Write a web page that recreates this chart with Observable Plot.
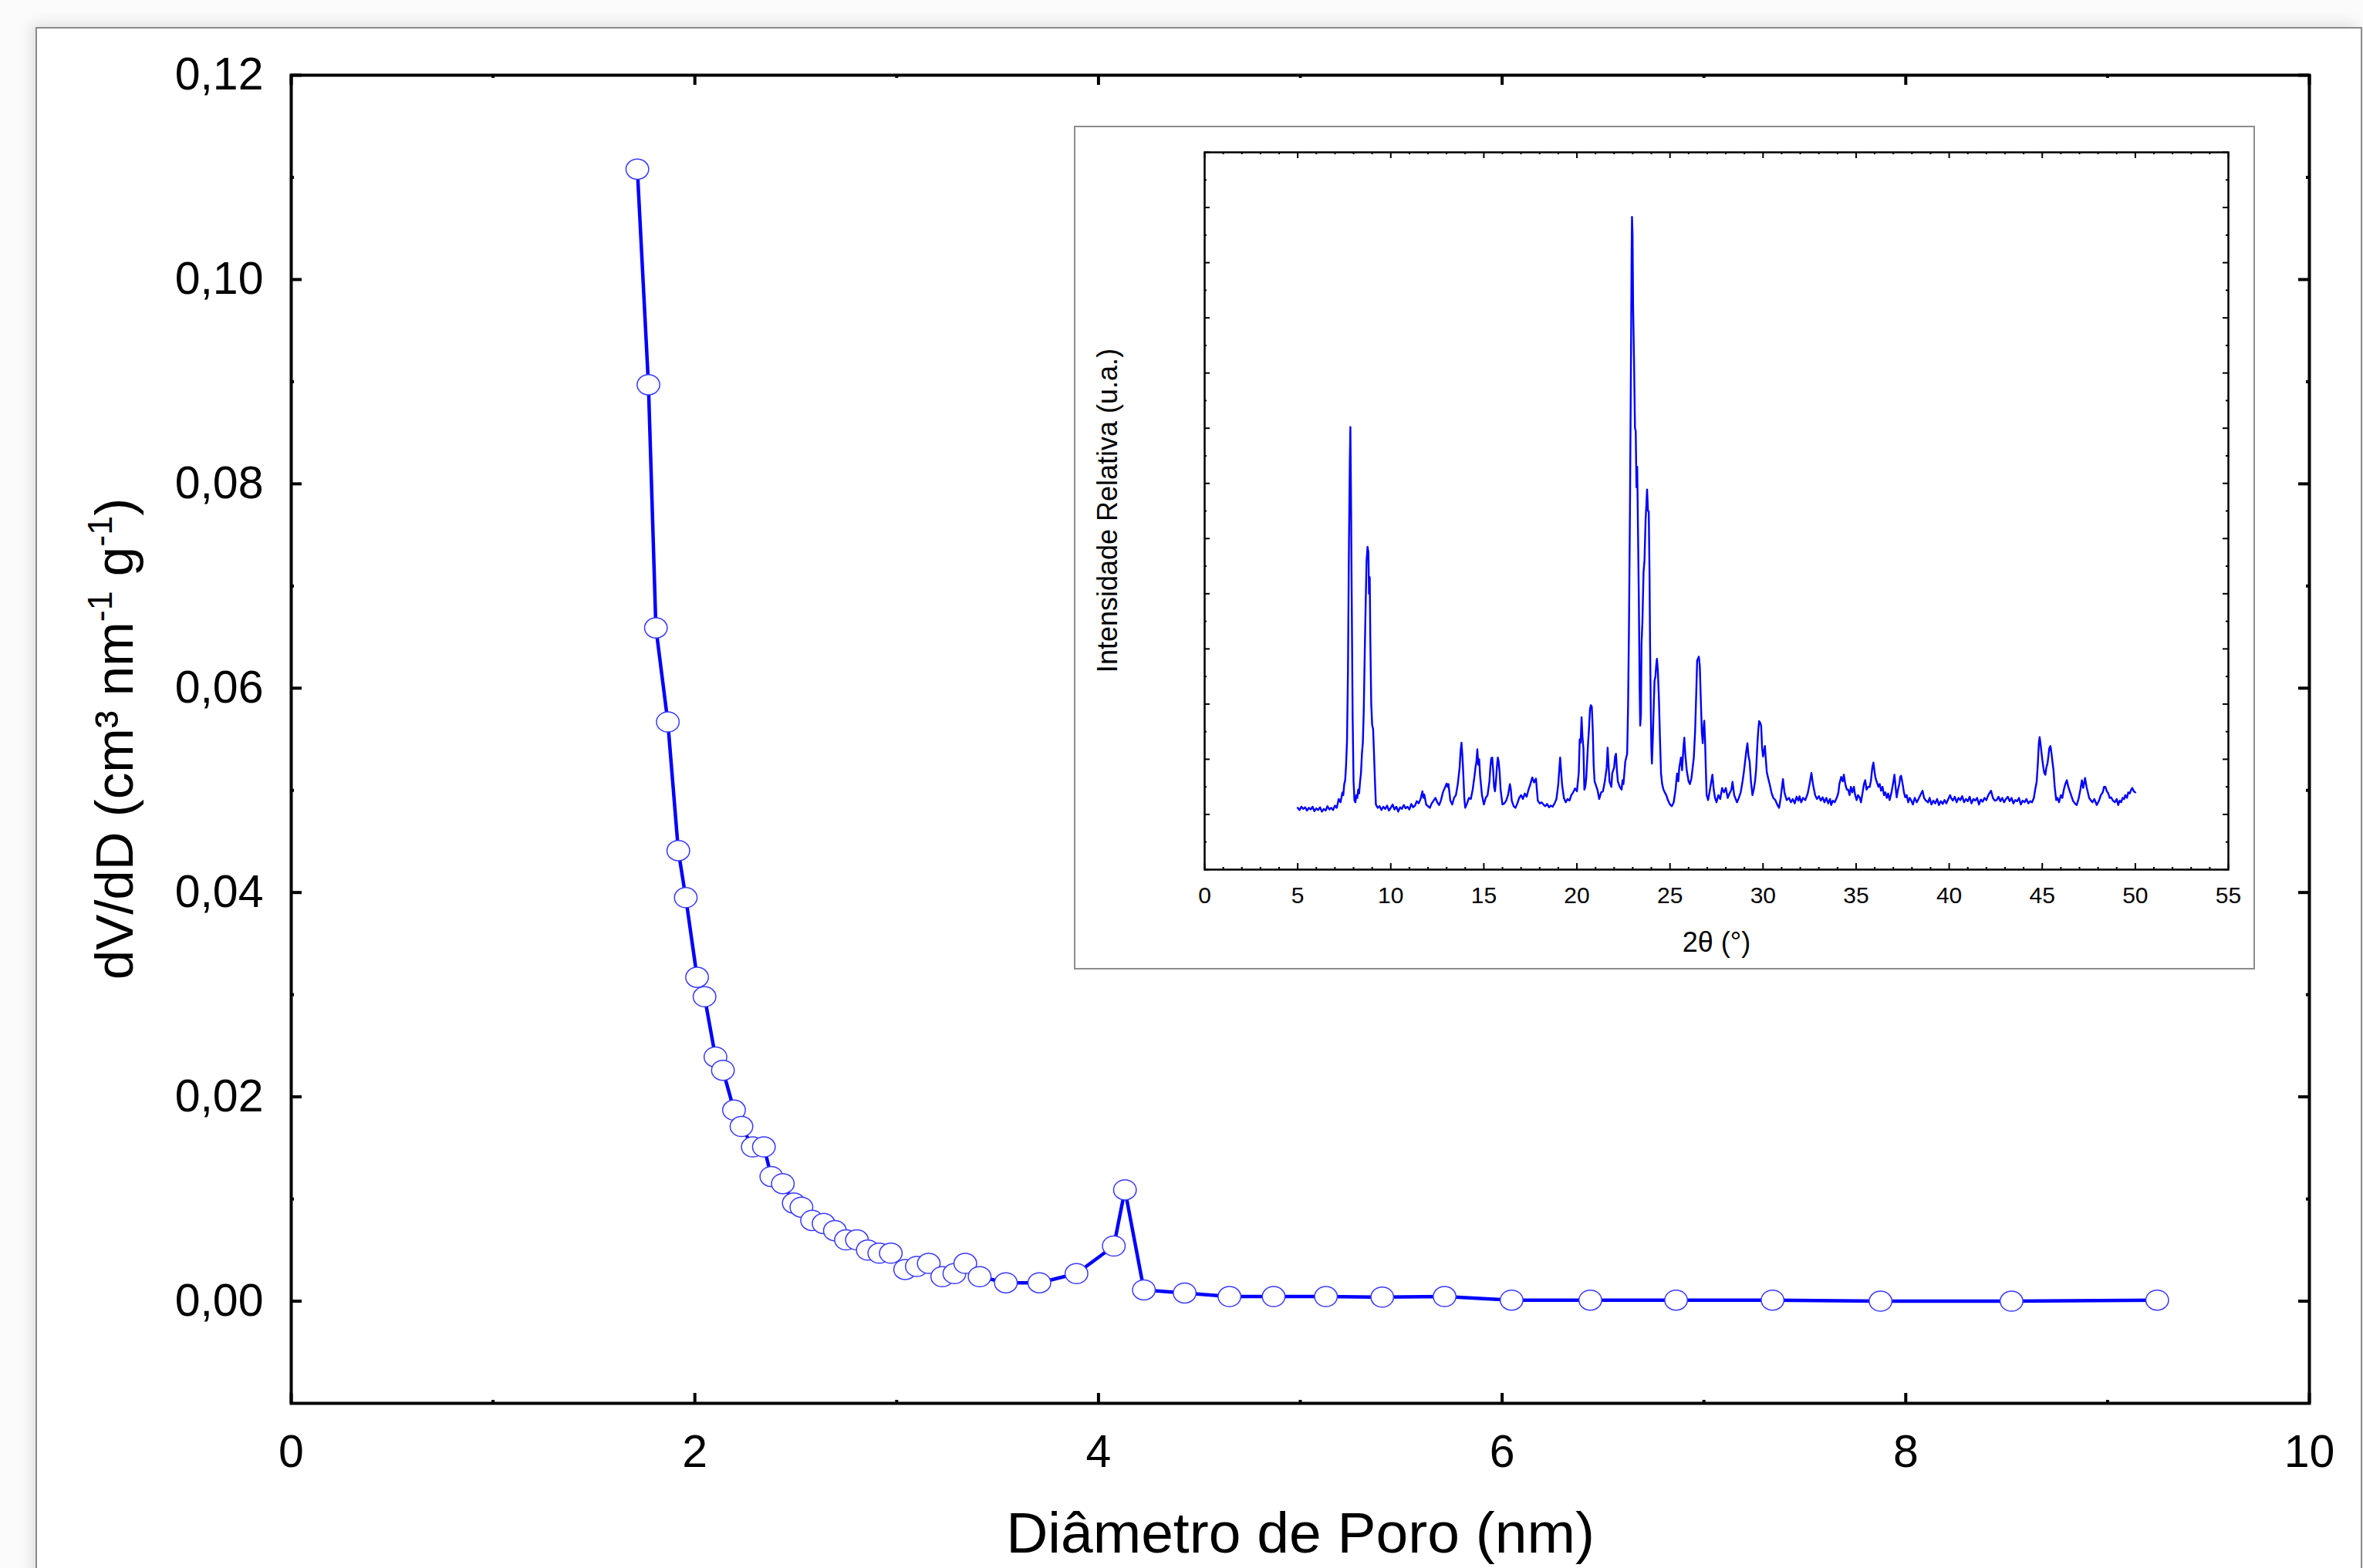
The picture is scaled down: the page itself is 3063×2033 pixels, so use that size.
<!DOCTYPE html>
<html>
<head>
<meta charset="utf-8">
<script src="https://cdn.jsdelivr.net/npm/d3@7"></script>
<script src="https://cdn.jsdelivr.net/npm/@observablehq/plot@0.6"></script>
<style>
  html, body { margin: 0; padding: 0; background: #fbfbfb; }
  #page { position: relative; width: 3063px; height: 2033px; overflow: hidden; background: #fbfbfb; }
  #sheet { position: absolute; left: 46px; top: 35px; width: 3012px; height: 2100px; background: #fff;
           border: 2px solid #8a8a8a; box-shadow: -6px -5px 16px rgba(0,0,0,0.10); }
  #main { position: absolute; left: 0; top: 0; }
  #insetBox { position: absolute; left: 1392px; top: 163px; width: 1531px; height: 1094px;
              border: 2px solid #8c8c8c; background: #fff; box-sizing: border-box; }
  #inset { position: absolute; left: 1393px; top: 164px; }
</style>
</head>
<body>
<div id="page">
  <div id="sheet"></div>
  <div id="main"></div>
  <div id="insetBox"></div>
  <div id="inset"></div>
</div>
<script>
// ---------------- DATA ----------------
// Pore size distribution (main chart)
const poreDiameter = [1.715, 1.770, 1.807, 1.866, 1.918, 1.955, 2.011, 2.048, 2.102, 2.139,
  2.194, 2.231, 2.287, 2.342, 2.379, 2.436, 2.490, 2.528, 2.581, 2.638,
  2.694, 2.749, 2.803, 2.857, 2.914, 2.971, 3.042, 3.100, 3.159, 3.226,
  3.286, 3.340, 3.411, 3.541, 3.707, 3.891, 4.076, 4.131, 4.225, 4.427,
  4.649, 4.868, 5.127, 5.406, 5.715, 6.047, 6.437, 6.862, 7.340, 7.875,
  8.524, 9.246];
const dVdD = [0.1108, 0.0897, 0.0659, 0.0567, 0.0441, 0.0395, 0.0317, 0.0298, 0.0239, 0.0226,
  0.0187, 0.0171, 0.0151, 0.0151, 0.0122, 0.0115, 0.0096, 0.0092, 0.0079, 0.0076,
  0.0069, 0.0060, 0.0060, 0.0050, 0.0047, 0.0047, 0.0031, 0.0034, 0.0037, 0.0024,
  0.0027, 0.0037, 0.0024, 0.0018, 0.0018, 0.0027, 0.0054, 0.0109, 0.0011, 0.0008,
  0.00045, 0.00045, 0.00045, 0.0004, 0.00045, 0.0001, 0.0001, 0.0001, 0.0001, 0.0000,
  0.0000, 0.0001];

const mainXTicks = [0, 2, 4, 6, 8, 10];
const mainXMinor = [1, 3, 5, 7, 9];
const mainYTicks = [0, 0.02, 0.04, 0.06, 0.08, 0.10, 0.12];
const mainYMinor = [0.01, 0.03, 0.05, 0.07, 0.09, 0.11];

// XRD pattern (inset), [2θ, relative intensity in arbitrary units]
const xrdPattern = [
  [5.0,1.12],[5.1,1.08],[5.2,1.14],[5.3,1.10],[5.4,1.13],[5.5,1.07],[5.6,1.12],[5.7,1.09],[5.8,1.14],[5.9,1.06],
  [6.0,1.11],[6.1,1.08],[6.2,1.13],[6.3,1.05],[6.4,1.10],[6.5,1.07],[6.6,1.15],[6.7,1.09],[6.8,1.12],[6.9,1.08],
  [7.0,1.16],[7.1,1.12],[7.2,1.28],[7.3,1.22],[7.4,1.40],[7.45,1.35],[7.5,1.55],[7.55,1.62],[7.6,1.90],[7.65,2.35],
  [7.7,3.6],[7.75,5.8],[7.8,7.4],[7.83,8.02],[7.86,6.9],[7.9,5.0],[7.95,2.8],[8.0,1.6],[8.05,1.25],[8.1,1.22],
  [8.15,1.35],[8.2,1.30],[8.25,1.45],[8.3,1.38],[8.35,1.60],[8.4,1.75],[8.45,2.1],[8.5,2.3],[8.55,2.9],[8.6,3.9],
  [8.65,4.8],[8.7,5.6],[8.75,5.85],[8.8,5.75],[8.83,5.0],[8.87,5.3],[8.9,4.2],[8.95,3.0],[9.0,2.62],[9.05,2.55],
  [9.1,2.1],[9.15,1.6],[9.2,1.18],[9.3,1.12],[9.4,1.15],[9.5,1.08],[9.6,1.14],[9.7,1.10],[9.8,1.16],[9.9,1.07],
  [10.0,1.12],[10.1,1.18],[10.2,1.09],[10.3,1.14],[10.4,1.05],[10.5,1.13],[10.6,1.10],[10.7,1.17],[10.8,1.11],[10.9,1.14],
  [11.0,1.09],[11.1,1.19],[11.2,1.13],[11.3,1.16],[11.4,1.24],[11.5,1.20],[11.6,1.28],[11.7,1.42],[11.75,1.30],[11.8,1.36],
  [11.9,1.18],[12.0,1.15],[12.1,1.12],[12.2,1.20],[12.3,1.25],[12.4,1.30],[12.5,1.22],[12.6,1.17],[12.7,1.26],[12.8,1.40],
  [12.9,1.48],[13.0,1.56],[13.05,1.50],[13.1,1.55],[13.2,1.25],[13.3,1.18],[13.4,1.30],[13.5,1.35],[13.6,1.55],[13.7,1.85],
  [13.75,2.15],[13.8,2.30],[13.85,2.05],[13.9,1.70],[13.95,1.30],[14.0,1.12],[14.1,1.20],[14.2,1.30],[14.3,1.28],[14.4,1.45],
  [14.5,1.70],[14.55,1.85],[14.6,1.95],[14.65,2.18],[14.7,1.90],[14.75,2.00],[14.8,1.70],[14.9,1.35],[15.0,1.18],[15.1,1.30],
  [15.2,1.35],[15.3,1.60],[15.35,1.85],[15.4,2.02],[15.45,2.03],[15.5,1.80],[15.55,1.50],[15.6,1.42],[15.65,1.60],[15.7,1.85],
  [15.75,2.03],[15.8,1.95],[15.85,1.75],[15.9,1.45],[16.0,1.18],[16.1,1.20],[16.2,1.25],[16.3,1.35],[16.4,1.55],[16.45,1.45],
  [16.5,1.25],[16.6,1.15],[16.7,1.12],[16.8,1.20],[16.9,1.30],[17.0,1.35],[17.1,1.28],[17.2,1.38],[17.3,1.32],[17.4,1.45],
  [17.5,1.55],[17.6,1.67],[17.7,1.58],[17.8,1.65],[17.9,1.25],[18.0,1.20],[18.1,1.22],[18.2,1.18],[18.3,1.15],[18.4,1.19],
  [18.5,1.13],[18.6,1.16],[18.7,1.14],[18.8,1.20],[18.9,1.28],[19.0,1.55],[19.05,1.80],[19.1,2.03],[19.15,1.80],[19.2,1.55],
  [19.3,1.30],[19.4,1.22],[19.5,1.28],[19.6,1.25],[19.7,1.35],[19.8,1.40],[19.9,1.47],[20.0,1.42],[20.1,1.75],[20.15,2.36],
  [20.2,2.30],[20.25,2.76],[20.3,2.40],[20.35,2.20],[20.4,1.45],[20.45,1.50],[20.5,1.65],[20.6,2.29],[20.65,2.55],[20.7,2.90],
  [20.75,2.98],[20.8,2.95],[20.85,2.55],[20.9,1.90],[20.95,1.60],[21.0,1.55],[21.1,1.45],[21.2,1.28],[21.3,1.40],[21.4,1.42],
  [21.5,1.60],[21.6,1.85],[21.65,2.21],[21.7,1.90],[21.75,1.60],[21.8,1.55],[21.85,1.50],[21.9,1.75],[22.0,1.85],[22.05,2.05],
  [22.1,2.10],[22.15,1.80],[22.2,1.60],[22.3,1.50],[22.4,1.45],[22.45,1.62],[22.5,1.55],[22.6,1.96],[22.7,2.10],[22.75,2.98],
  [22.8,4.5],[22.85,6.5],[22.9,9.0],[22.94,11.2],[22.96,11.83],[22.99,11.5],[23.02,10.2],[23.07,9.2],[23.12,8.0],[23.16,7.95],
  [23.2,6.93],[23.24,7.3],[23.28,6.2],[23.33,4.81],[23.37,3.3],[23.4,2.61],[23.44,2.8],[23.47,4.08],[23.52,4.5],[23.58,5.39],
  [23.63,5.6],[23.69,6.34],[23.73,6.6],[23.77,6.89],[23.82,6.5],[23.86,6.49],[23.9,5.4],[23.93,4.08],[23.97,2.9],[24.0,2.2],
  [24.03,1.92],[24.08,2.4],[24.13,3.0],[24.17,3.42],[24.22,3.5],[24.26,3.7],[24.3,3.82],[24.35,3.6],[24.41,3.05],[24.46,2.4],
  [24.52,1.74],[24.58,1.55],[24.65,1.45],[24.72,1.40],[24.8,1.35],[24.9,1.25],[25.0,1.18],[25.1,1.15],[25.2,1.22],[25.3,1.45],
  [25.38,1.74],[25.45,1.60],[25.5,1.85],[25.59,2.03],[25.65,1.80],[25.72,2.2],[25.77,2.39],[25.82,2.1],[25.9,1.80],[26.0,1.60],
  [26.07,1.55],[26.15,1.65],[26.22,1.85],[26.28,2.03],[26.35,2.5],[26.42,3.3],[26.46,3.79],[26.55,3.86],[26.6,3.7],[26.66,3.05],
  [26.71,2.5],[26.76,2.29],[26.8,2.55],[26.84,2.7],[26.88,2.4],[26.92,1.9],[26.97,1.35],[27.05,1.26],[27.15,1.45],[27.22,1.60],
  [27.28,1.72],[27.35,1.45],[27.42,1.30],[27.5,1.22],[27.6,1.35],[27.7,1.28],[27.8,1.48],[27.9,1.40],[28.0,1.48],[28.1,1.30],
  [28.2,1.38],[28.3,1.45],[28.36,1.59],[28.45,1.35],[28.6,1.22],[28.7,1.30],[28.8,1.40],[28.9,1.60],[28.97,1.77],[29.05,2.0],
  [29.1,2.15],[29.16,2.29],[29.22,2.05],[29.28,1.96],[29.35,1.60],[29.43,1.35],[29.5,1.45],[29.57,1.60],[29.63,1.82],[29.7,2.3],
  [29.75,2.55],[29.79,2.69],[29.85,2.66],[29.9,2.60],[29.95,2.2],[30.0,2.05],[30.05,2.15],[30.1,2.24],[30.15,2.0],[30.2,1.77],
  [30.28,1.65],[30.36,1.54],[30.45,1.40],[30.55,1.30],[30.66,1.26],[30.76,1.18],[30.86,1.12],[30.95,1.30],[31.0,1.45],[31.07,1.64],
  [31.15,1.40],[31.27,1.26],[31.4,1.30],[31.5,1.22],[31.6,1.28],[31.7,1.20],[31.8,1.32],[31.9,1.25],[31.96,1.33],[32.05,1.22],
  [32.15,1.30],[32.27,1.26],[32.4,1.38],[32.5,1.55],[32.6,1.75],[32.68,1.55],[32.8,1.35],[32.9,1.28],[33.0,1.33],[33.1,1.25],
  [33.2,1.31],[33.3,1.22],[33.4,1.30],[33.5,1.20],[33.6,1.28],[33.66,1.17],[33.75,1.25],[33.85,1.22],[33.97,1.31],[34.05,1.40],
  [34.1,1.55],[34.2,1.68],[34.28,1.60],[34.34,1.72],[34.42,1.55],[34.5,1.45],[34.57,1.45],[34.65,1.35],[34.72,1.50],[34.8,1.40],
  [34.88,1.50],[34.95,1.35],[35.03,1.26],[35.1,1.35],[35.2,1.30],[35.26,1.22],[35.35,1.40],[35.42,1.55],[35.49,1.62],[35.56,1.45],
  [35.65,1.50],[35.73,1.50],[35.8,1.62],[35.87,1.85],[35.93,1.94],[36.0,1.75],[36.05,1.65],[36.11,1.59],[36.2,1.50],[36.27,1.55],
  [36.34,1.43],[36.42,1.50],[36.5,1.35],[36.57,1.40],[36.65,1.30],[36.72,1.38],[36.8,1.26],[36.9,1.40],[36.98,1.55],[37.06,1.72],
  [37.12,1.50],[37.18,1.31],[37.25,1.45],[37.32,1.55],[37.37,1.68],[37.42,1.70],[37.5,1.55],[37.57,1.40],[37.64,1.31],[37.72,1.35],
  [37.8,1.22],[37.88,1.30],[37.95,1.26],[38.05,1.18],[38.15,1.30],[38.26,1.22],[38.35,1.28],[38.45,1.35],[38.57,1.43],[38.65,1.30],
  [38.75,1.25],[38.87,1.22],[38.95,1.30],[39.05,1.18],[39.15,1.25],[39.25,1.20],[39.35,1.28],[39.45,1.17],[39.55,1.24],[39.65,1.19],
  [39.75,1.26],[39.85,1.20],[39.95,1.28],[40.05,1.35],[40.1,1.30],[40.2,1.25],[40.3,1.32],[40.4,1.22],[40.5,1.30],[40.6,1.26],
  [40.7,1.33],[40.8,1.22],[40.9,1.28],[41.0,1.24],[41.1,1.32],[41.2,1.20],[41.3,1.28],[41.4,1.25],[41.5,1.30],[41.6,1.18],
  [41.7,1.27],[41.8,1.23],[41.9,1.30],[42.0,1.26],[42.1,1.35],[42.25,1.43],[42.35,1.30],[42.45,1.25],[42.55,1.26],[42.65,1.32],
  [42.75,1.24],[42.85,1.30],[42.95,1.22],[43.05,1.28],[43.15,1.32],[43.25,1.24],[43.35,1.30],[43.45,1.20],[43.55,1.26],[43.65,1.24],
  [43.75,1.30],[43.85,1.18],[43.95,1.25],[44.05,1.22],[44.15,1.28],[44.25,1.20],[44.35,1.24],[44.45,1.22],[44.55,1.30],[44.62,1.45],
  [44.7,1.59],[44.76,1.9],[44.82,2.3],[44.86,2.40],[44.9,2.30],[44.95,2.15],[45.0,2.0],[45.06,1.85],[45.11,1.75],[45.17,1.72],
  [45.22,1.85],[45.28,1.92],[45.33,2.05],[45.38,2.20],[45.44,2.24],[45.5,2.10],[45.55,1.95],[45.6,1.82],[45.67,1.50],[45.75,1.26],
  [45.82,1.30],[45.9,1.22],[46.0,1.35],[46.08,1.30],[46.16,1.45],[46.24,1.55],[46.32,1.62],[46.4,1.50],[46.48,1.42],[46.55,1.35],
  [46.65,1.25],[46.75,1.20],[46.85,1.17],[46.95,1.28],[47.05,1.45],[47.13,1.62],[47.2,1.48],[47.3,1.66],[47.38,1.50],[47.45,1.40],
  [47.52,1.30],[47.6,1.26],[47.7,1.22],[47.8,1.28],[47.93,1.17],[48.05,1.25],[48.15,1.35],[48.25,1.40],[48.32,1.50],[48.39,1.50],
  [48.47,1.42],[48.55,1.38],[48.62,1.30],[48.7,1.31],[48.8,1.25],[48.9,1.22],[49.0,1.28],[49.08,1.17],[49.16,1.25],[49.24,1.22],
  [49.32,1.30],[49.4,1.28],[49.46,1.35],[49.55,1.30],[49.62,1.40],[49.7,1.38],[49.78,1.45],[49.84,1.48],[49.92,1.42],[50.0,1.40]
];
const xrdXTicks = [0, 5, 10, 15, 20, 25, 30, 35, 40, 45, 50, 55];
const xrdXMinor = d3.range(0, 56).filter(d => d % 5 !== 0);
const xrdYMajor = d3.range(0, 14);
const xrdYMinor = d3.range(0, 13).map(d => d + 0.5);

// ---------------- MAIN CHART ----------------
const FONT = "'Liberation Sans', Arial, Helvetica, sans-serif";
const W = 3063, H = 2033;
const mL = 377, mT = 97, mR = 70, mB = 214;
const innerW = W - mL - mR, innerH = H - mT - mB;
const comma = d => d.toFixed(2).replace(".", ",");
const psd = poreDiameter.map((d, i) => ({d, v: dVdD[i]}));
const blue = "#0000ff";

// slightly wide elliptical marker, as in the original
const ellipse = {
  draw(context, size) {
    const r = Math.sqrt(size / Math.PI);
    const rx = r * 1.05, ry = r * 0.93, k = 0.5523;
    context.moveTo(rx, 0);
    context.bezierCurveTo(rx, ry * k, rx * k, ry, 0, ry);
    context.bezierCurveTo(-rx * k, ry, -rx, ry * k, -rx, 0);
    context.bezierCurveTo(-rx, -ry * k, -rx * k, -ry, 0, -ry);
    context.bezierCurveTo(rx * k, -ry, rx, -ry * k, rx, 0);
    context.closePath();
  }
};

const main = Plot.plot({
  width: W, height: H,
  marginLeft: mL, marginTop: mT, marginRight: mR, marginBottom: mB,
  style: {background: "transparent", fontFamily: FONT, color: "#000"},
  x: {domain: [0, 10], axis: null, label: null},
  y: {domain: [-0.01, 0.12], axis: null, label: null},
  marks: [
    // inward ticks, all four sides
    Plot.ruleX(mainXTicks, {x: d => d, insetTop: innerH - 13, stroke: "#000", strokeWidth: 4}),
    Plot.ruleX(mainXTicks, {x: d => d, insetBottom: innerH - 13, stroke: "#000", strokeWidth: 4}),
    Plot.ruleX(mainXMinor, {x: d => d, insetTop: innerH - 4, stroke: "#000", strokeWidth: 4}),
    Plot.ruleX(mainXMinor, {x: d => d, insetBottom: innerH - 4, stroke: "#000", strokeWidth: 4}),
    Plot.ruleY(mainYTicks, {y: d => d, insetRight: innerW - 14, stroke: "#000", strokeWidth: 4}),
    Plot.ruleY(mainYTicks, {y: d => d, insetLeft: innerW - 14, stroke: "#000", strokeWidth: 4}),
    Plot.ruleY(mainYMinor, {y: d => d, insetRight: innerW - 4, stroke: "#000", strokeWidth: 4}),
    Plot.ruleY(mainYMinor, {y: d => d, insetLeft: innerW - 4, stroke: "#000", strokeWidth: 4}),
    Plot.frame({stroke: "#000", strokeWidth: 4}),
    Plot.axisX(mainXTicks, {anchor: "bottom", tickSize: 0, tickPadding: 41, fontSize: 59,
      tickFormat: d => String(d), label: null}),
    Plot.axisY(mainYTicks, {anchor: "left", tickSize: 0, tickPadding: 36, fontSize: 59,
      tickFormat: comma, label: null}),
    Plot.text(["Diâmetro de Poro (nm)"], {frameAnchor: "bottom", dy: 193, lineAnchor: "bottom",
      fontSize: 75, fill: "#000"}),
    Plot.line(psd, {x: "d", y: "v", stroke: blue, strokeWidth: 4.5}),
    Plot.dot(psd, {x: "d", y: "v", r: 14, symbol: ellipse, fill: "#fff", stroke: "#3a3aff", strokeWidth: 1.5})
  ]
});
document.getElementById("main").appendChild(main);

// y title with real superscripts
{
  const t = d3.select(main).append("text")
    .attr("transform", "translate(172,958) rotate(-90)")
    .attr("text-anchor", "middle")
    .attr("font-family", FONT)
    .attr("font-size", 69)
    .attr("fill", "#000");
  t.append("tspan").text("dV/dD (cm³ nm");
  t.append("tspan").attr("dy", -27).attr("font-size", 45).text("-1");
  t.append("tspan").attr("dy", 27).text(" g");
  t.append("tspan").attr("dy", -27).attr("font-size", 45).text("-1");
  t.append("tspan").attr("dy", 27).text(")");
}

// ---------------- INSET ----------------
const iW = 1529, iH = 1092;
const iL = 168, iT = 33, iR = 34, iB = 129;
const iInnerW = iW - iL - iR, iInnerH = iH - iT - iB;

const inset = Plot.plot({
  width: iW, height: iH,
  marginLeft: iL, marginTop: iT, marginRight: iR, marginBottom: iB,
  style: {background: "transparent", fontFamily: FONT, color: "#000"},
  x: {domain: [0, 55], axis: null, label: null},
  y: {domain: [0, 13], axis: null, label: null},
  marks: [
    Plot.ruleX(xrdXTicks, {x: d => d, insetTop: iInnerH - 8, stroke: "#000", strokeWidth: 2}),
    Plot.ruleX(xrdXTicks, {x: d => d, insetBottom: iInnerH - 8, stroke: "#000", strokeWidth: 2}),
    Plot.ruleX(xrdXMinor, {x: d => d, insetTop: iInnerH - 3, stroke: "#000", strokeWidth: 2}),
    Plot.ruleX(xrdXMinor, {x: d => d, insetBottom: iInnerH - 3, stroke: "#000", strokeWidth: 2}),
    Plot.ruleY(xrdYMajor, {y: d => d, insetRight: iInnerW - 7, stroke: "#000", strokeWidth: 2}),
    Plot.ruleY(xrdYMajor, {y: d => d, insetLeft: iInnerW - 7, stroke: "#000", strokeWidth: 2}),
    Plot.ruleY(xrdYMinor, {y: d => d, insetRight: iInnerW - 3, stroke: "#000", strokeWidth: 2}),
    Plot.ruleY(xrdYMinor, {y: d => d, insetLeft: iInnerW - 3, stroke: "#000", strokeWidth: 2}),
    Plot.frame({stroke: "#000", strokeWidth: 2.5}),
    Plot.axisX(xrdXTicks, {anchor: "bottom", tickSize: 0, tickPadding: 22, fontSize: 30,
      tickFormat: d => String(d), label: null}),
    Plot.text(["2θ (°)"], {frameAnchor: "bottom", dy: 106, lineAnchor: "bottom",
      fontSize: 36, fill: "#000"}),
    Plot.line(xrdPattern, {x: d => d[0], y: d => d[1], stroke: blue, strokeWidth: 2.4})
  ]
});
document.getElementById("inset").appendChild(inset);

d3.select(inset).append("text")
  .attr("transform", `translate(${1448 - 1393},${662 - 164}) rotate(-90)`)
  .attr("text-anchor", "middle")
  .attr("font-family", FONT)
  .attr("font-size", 36)
  .attr("fill", "#000")
  .text("Intensidade Relativa (u.a.)");
</script>
</body>
</html>
